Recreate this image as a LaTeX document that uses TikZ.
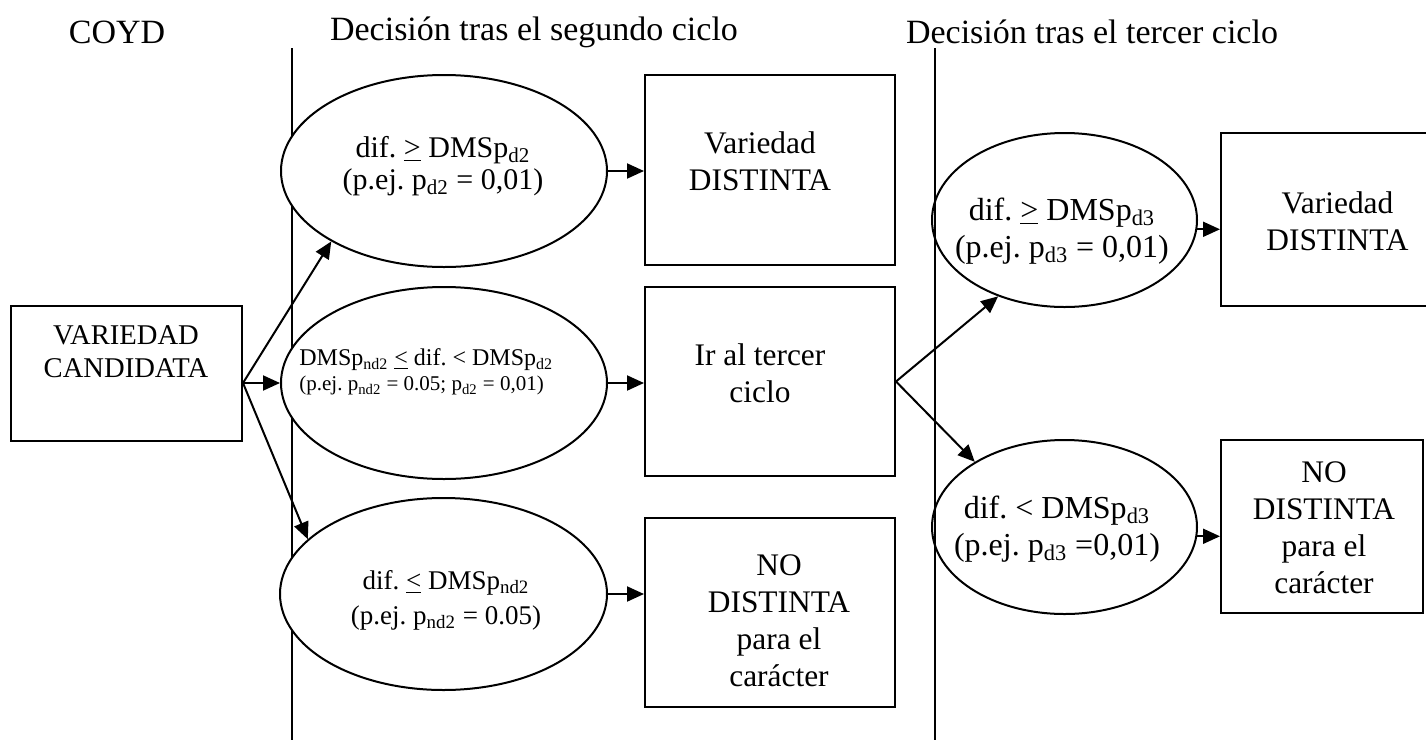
\documentclass[tikz,border=0pt]{standalone}
\usepackage{fontspec}
\setmainfont{Liberation Serif}
\usetikzlibrary{arrows.meta, shapes.geometric, calc}
\frenchspacing

\newcommand{\tam}[2]{\fontsize{#1}{#2}\selectfont}
\newcommand{\mayorig}{\underline{>}}
\newcommand{\menorig}{\underline{<}}

\tikzset{
  caja/.style={draw, rectangle, line width=1pt, inner sep=0pt},
  elipse/.style={draw, ellipse, line width=1pt, inner sep=0pt},
  texto/.style={align=center, inner sep=0pt},
  flecha/.style={-{Triangle[length=8.5pt,width=7.5pt]}, line width=1pt},
}

\begin{document}
\begin{tikzpicture}[x=0.5pt, y=-0.5pt]
\useasboundingbox (0,0) rectangle (1426,740);
\clip (0,0) rectangle (1426,740);

% encabezados
\node[texto, font=\tam{17}{20}] (hcoyd) at (117,32) {COYD};
\node[texto, font=\tam{17}{20}] (hseg) at (534,32) {Decisión tras el segundo ciclo};
\node[texto, font=\tam{17}{20}] (hter) at (1092,32) {Decisión tras el tercer ciclo};

% separadores
\draw[line width=1pt] (292,48) -- (292,740);
\draw[line width=1pt] (935,48) -- (935,740);

% cajas
\node[caja, minimum width=115.5pt, minimum height=67.5pt] (cand) at (126.5,373.5) {};
\node[caja, minimum width=125pt, minimum height=95pt] (r1) at (770,170) {};
\node[caja, minimum width=125pt, minimum height=94.5pt] (r2) at (770,381.5) {};
\node[caja, minimum width=125pt, minimum height=94.5pt] (r3) at (770,612.5) {};
\node[caja, minimum width=116.5pt, minimum height=86.5pt] (r4) at (1337.5,219.5) {};
\node[caja, minimum width=101pt, minimum height=86.5pt] (r5) at (1322,526.5) {};

% elipses
\node[elipse, fill=white, minimum width=163pt, minimum height=96pt] (e1) at (444,171) {};
\node[elipse, fill=white, minimum width=163pt, minimum height=96pt] (e2) at (444,383) {};
\node[elipse, fill=white, minimum width=163.5pt, minimum height=96pt] (e3) at (443.5,594) {};
\node[elipse, minimum width=132.5pt, minimum height=87pt] (e4) at (1064.5,220) {};
\node[elipse, minimum width=132.5pt, minimum height=87pt] (e5) at (1064.5,527) {};

% textos
\node[texto, font=\tam{14.3}{16.5}] (tcand) at (126,351.5) {VARIEDAD\\CANDIDATA};
\node[texto, font=\tam{15.7}{18.5}] (t1) at (760,161) {Variedad\\DISTINTA};
\node[texto, font=\tam{15.7}{18.5}] (t2) at (760,373.5) {Ir al tercer\\ciclo};
\node[texto, font=\tam{15.7}{18.5}] (t3) at (779,621) {NO\\DISTINTA\\para el\\carácter};
\node[texto, font=\tam{15.7}{18.5}] (t4) at (1337.5,221) {Variedad\\DISTINTA};
\node[texto, font=\tam{15.7}{18.5}] (t5) at (1324,528) {NO\\DISTINTA\\para el\\carácter};

\node[texto, font=\tam{15}{16}] (te1) at (443,166) {dif. \mayorig{} DMSp\textsubscript{d2}\\(p.ej. p\textsubscript{d2} = 0,01)};
\node[align=left, anchor=west, inner sep=0pt, font=\tam{12}{12.5}] (te2) at (299,372)
  {DMSp\textsubscript{nd2} \menorig{} dif. < DMSp\textsubscript{d2}\\{\tam{10.5}{12.5}(p.ej. p\textsubscript{nd2} = 0.05; p\textsubscript{d2} = 0,01)}};
\node[texto, font=\tam{13.5}{17.5}] (te3) at (446,600) {dif. \menorig{} DMSp\textsubscript{nd2}\\(p.ej. p\textsubscript{nd2} = 0.05)};
\node[texto, font=\tam{16}{18.5}] (te4) at (1062,231) {dif. \mayorig{} DMSp\textsubscript{d3}\\(p.ej. p\textsubscript{d3} = 0,01)};
\node[texto, font=\tam{16}{18.5}] (te5) at (1057,529) {dif. < DMSp\textsubscript{d3}\\(p.ej. p\textsubscript{d3} =0,01)};

% flechas
\draw[flecha] (cand.east |- e2.west) -- (e1.212);
\draw[flecha] (cand.east |- e2.west) -- (e2.west);
\draw[flecha] (cand.east |- e2.west) -- (e3.158);
\draw[flecha] (e1.east) -- (e1.east -| r1.west);
\draw[flecha] (e2.east) -- (e2.east -| r2.west);
\draw[flecha] (e3.east) -- (e3.east -| r3.west);
\draw[flecha] (r2.east) -- (e4.229);
\draw[flecha] (r2.east) -- (e5.144);
\draw[flecha] (e4.356) -- (e4.356 -| r4.west);
\draw[flecha] (e5.356) -- (e5.356 -| r5.west);
\end{tikzpicture}
\end{document}
